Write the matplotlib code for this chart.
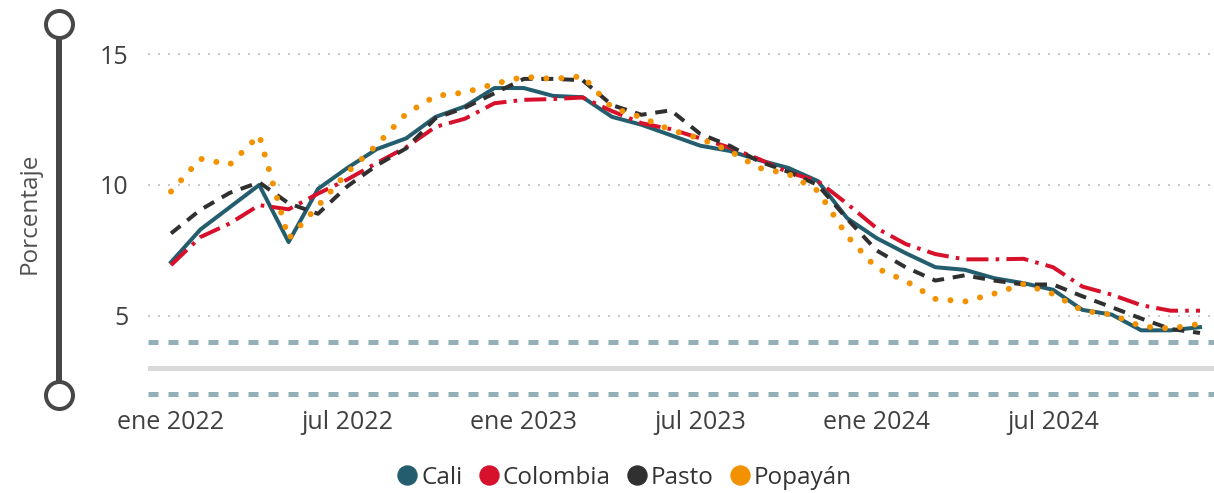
import matplotlib
matplotlib.use("Agg")
import matplotlib.pyplot as plt
import matplotlib.transforms as mtransforms
from matplotlib.lines import Line2D

# Monthly periods, Jan 2022 - Dec 2024
meses = ["ene", "feb", "mar", "abr", "may", "jun", "jul", "ago", "sep", "oct", "nov", "dic"]
periodos = [f"{m} {a}" for a in (2022, 2023, 2024) for m in meses]

# Annual inflation (%)
cali = [7.05, 8.30, 9.15, 10.00, 7.82, 9.85, 10.65, 11.37, 11.78, 12.60, 13.00, 13.70,
        13.70, 13.40, 13.35, 12.60, 12.30, 11.90, 11.50, 11.30, 10.95, 10.65, 10.15, 8.73,
        7.97, 7.39, 6.86, 6.76, 6.44, 6.25, 6.00, 5.23, 5.05, 4.45, 4.45, 4.57]
colombia = [6.94, 8.01, 8.53, 9.23, 9.07, 9.67, 10.21, 10.84, 11.44, 12.22, 12.53, 13.12,
            13.25, 13.28, 13.34, 12.82, 12.36, 12.13, 11.78, 11.43, 10.99, 10.48, 10.15, 9.28,
            8.35, 7.74, 7.36, 7.16, 7.16, 7.18, 6.86, 6.12, 5.81, 5.41, 5.20, 5.20]
pasto = [8.15, 9.05, 9.70, 10.10, 9.30, 8.90, 9.95, 10.75, 11.40, 12.55, 12.95, 13.50,
         14.05, 14.05, 14.00, 13.05, 12.68, 12.85, 11.95, 11.50, 10.90, 10.50, 10.00, 8.70,
         7.50, 6.85, 6.35, 6.55, 6.35, 6.20, 6.20, 5.75, 5.33, 4.90, 4.50, 4.35]
popayan = [9.75, 11.00, 10.78, 11.90, 7.95, 9.20, 10.48, 11.53, 12.72, 13.40, 13.53, 13.86,
           14.13, 14.05, 14.15, 12.95, 12.58, 12.10, 11.77, 11.30, 10.65, 10.42, 9.78, 8.05,
           6.82, 6.33, 5.65, 5.55, 5.85, 6.22, 5.84, 5.20, 5.05, 4.60, 4.52, 4.70]

series = ["Cali", "Colombia", "Pasto", "Popayán"]
colores = ["#245E6E", "#D7112B", "#303030", "#F39200"]

# Inflation target band
meta_inferior, meta_central, meta_superior = 2, 3, 4
y_ticks = [5, 10, 15]

PT = 0.72  # points per pixel at dpi 100

plt.rcParams["font.family"] = ["Open Sans", "DejaVu Sans"]

W, H = 1214, 493
fig = plt.figure(figsize=(W / 100, H / 100), dpi=100)
ax = fig.add_axes([148 / W, 1 - 400 / H, 1 - 148 / W, 390 / H])

x = list(range(len(periodos)))
ax.set_xlim((148 - 171) / 29.4, (1214 - 171) / 29.4)
ax.set_ylim(1.79, 16.68)

for s in ax.spines.values():
    s.set_visible(False)

# dotted horizontal gridlines
for v in y_ticks:
    ax.axhline(v, color="#C8C8C8", lw=2 * PT, dashes=(1, 4), zorder=1)

# target band
ax.axhline(meta_superior, color="#93AFB7", lw=5 * PT, dashes=(2, 2), zorder=1.5)
ax.axhline(meta_inferior, color="#93AFB7", lw=5 * PT, dashes=(2, 2), zorder=1.5)
ax.axhline(meta_central, color="#D9D9D9", lw=5 * PT, solid_capstyle="round", zorder=1.5)

lw = 4 * PT
ax.plot(x, cali, color=colores[0], lw=lw, solid_joinstyle="round", zorder=3)
ax.plot(x, colombia, color=colores[1], lw=lw, linestyle=(0, (5.5, 1.8, 0.9, 1.8)), zorder=4)
ax.plot(x, pasto, color=colores[2], lw=lw, linestyle=(0, (3.0, 2.2)), zorder=5)
ax.plot(x, popayan, color=colores[3], lw=6 * PT, linestyle=(0, (0.01, 2.5)),
        dash_capstyle="round", zorder=6)

txt = "#404040"
ax.set_yticks(y_ticks)
ax.set_yticklabels([str(v) for v in y_ticks])
ax.set_xticks(x[::6])
ax.set_xticklabels(periodos[::6])
ax.tick_params(axis="both", length=0, labelsize=18, labelcolor=txt)
ax.tick_params(axis="y", pad=14)
ax.tick_params(axis="x", pad=7)

fig.text(30 / W, 1 - 213 / H, "Porcentaje", rotation=90, ha="center", va="center",
         fontsize=17.5, color="#505050")

# decorative value axis with circular end caps
tr = mtransforms.blended_transform_factory(fig.transFigure, ax.transData)
deco = Line2D([59 / W, 59 / W], [meta_inferior - 0.02, 16.13], transform=tr,
              color="#474747", lw=6 * PT, marker="o", markersize=27 * PT,
              markeredgewidth=4 * PT, markerfacecolor="white", markeredgecolor="#474747")
fig.add_artist(deco)

handles = [Line2D([], [], linestyle="none", marker="o", markersize=19 * PT,
                  markerfacecolor=c, markeredgecolor=c) for c in colores]
fig.legend(handles, series, loc="center", bbox_to_anchor=(625 / W, 1 - 478 / H),
           ncol=4, frameon=False, fontsize=17.5, handlelength=0.75, handletextpad=0.2,
           columnspacing=0.7, borderpad=0, labelcolor="#333333")

fig.savefig("out.png", dpi=100)
